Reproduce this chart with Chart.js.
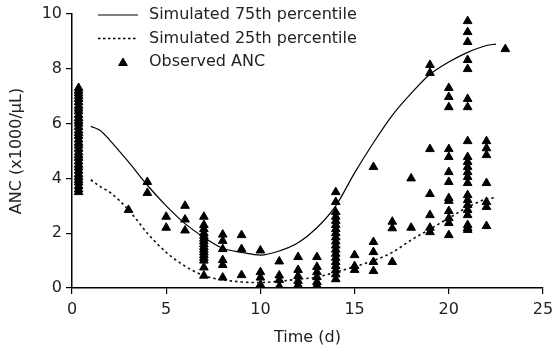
<!DOCTYPE html>
<html lang="en">
<head>
    <meta charset="UTF-8">
    <title>ANC over time</title>
    <style>
        body { margin: 0; background: #fff; }
        #wrap { width: 552px; height: 349px; }
    </style>
    <script src="https://cdn.jsdelivr.net/npm/chart.js"></script>
    <script>
        // simulated percentiles (day, ANC x1000/uL)
        const simDays = [1, 1.5, 2, 3, 4, 5, 6, 7, 8, 9, 10, 11, 12, 13, 14, 15, 16, 17, 18, 19, 20, 21, 22, 22.5];
        const sim75 = [5.9, 5.75, 5.4, 4.6, 3.75, 3.0, 2.35, 1.85, 1.45, 1.3, 1.2, 1.35, 1.65, 2.2, 3.0, 4.2, 5.3, 6.3, 7.1, 7.8, 8.25, 8.6, 8.85, 8.9];
        const sim25 = [3.95, 3.7, 3.5, 2.85, 2.0, 1.3, 0.8, 0.45, 0.3, 0.22, 0.2, 0.25, 0.32, 0.4, 0.58, 0.78, 1.0, 1.3, 1.75, 2.15, 2.55, 2.95, 3.25, 3.3];

        // observed ANC, grouped by sampling day
        const obsDays = [0.35, 3, 4, 5, 6, 7, 8, 9, 10, 11, 12, 13, 14, 15, 16, 17, 18, 19, 20, 21, 22, 23];
        const obsValues = [
            [3.5, 3.6, 3.72, 3.85, 3.95, 4.05, 4.15, 4.28, 4.4, 4.5, 4.62, 4.75, 4.85, 4.95, 5.08, 5.2, 5.3, 5.42, 5.55, 5.65, 5.75, 5.88, 6.0, 6.1, 6.2, 6.32, 6.45, 6.55, 6.65, 6.78, 6.9, 7.0, 7.1, 7.2, 7.3],
            [2.85],
            [3.87, 3.47],
            [2.6, 2.2],
            [3.0, 2.5, 2.1],
            [2.6, 2.3, 2.15, 2.0, 1.9, 1.8, 1.7, 1.6, 1.5, 1.4, 1.3, 1.2, 1.1, 1.0, 0.75, 0.45],
            [1.95, 1.72, 1.42, 1.02, 0.84, 0.38],
            [1.93, 1.42, 0.47],
            [1.37, 0.58, 0.38, 0.12],
            [0.97, 0.46, 0.29, 0.06],
            [1.13, 0.66, 0.44, 0.26, 0.11],
            [1.13, 0.77, 0.58, 0.4, 0.22, 0.1],
            [3.5, 3.14, 2.77, 2.6, 2.45, 2.3, 2.15, 2.0, 1.85, 1.7, 1.55, 1.4, 1.25, 1.1, 0.95, 0.8, 0.65, 0.5, 0.32],
            [1.2, 0.8, 0.66],
            [4.42, 1.68, 1.31, 0.95, 0.62],
            [2.42, 2.18, 0.95],
            [4.0, 2.2],
            [8.14, 7.85, 5.07, 3.43, 2.66, 2.2, 2.04],
            [7.3, 6.97, 6.6, 5.07, 4.78, 4.23, 3.87, 3.28, 3.18, 2.81, 2.55, 2.37, 1.93],
            [9.74, 9.34, 8.98, 8.32, 7.99, 6.9, 6.6, 5.36, 4.78, 4.6, 4.42, 4.23, 4.05, 3.83, 3.39, 3.21, 3.03, 2.85, 2.66, 2.3, 2.19, 2.12],
            [5.36, 5.1, 4.85, 3.83, 3.14, 2.96, 2.26],
            [8.72]
        ];

        const xTicks = [0, 5, 10, 15, 20, 25];
        const yTicks = [0, 2, 4, 6, 8, 10];

        const labelFont = { family: 'DejaVu Sans', size: 16 };
        const textColor = '#222';

        // draws the little legend in the top left of the plot
        const legendPlugin = {
            id: 'cornerLegend',
            afterDraw(chart) {
                const ctx = chart.ctx;
                const rows = [
                    { y: 15, text: 'Simulated 75th percentile', kind: 'solid' },
                    { y: 38.5, text: 'Simulated 25th percentile', kind: 'dash' },
                    { y: 62, text: 'Observed ANC', kind: 'tri' }
                ];
                ctx.save();
                ctx.font = '16px "DejaVu Sans"';
                ctx.fillStyle = textColor;
                ctx.textBaseline = 'middle';
                rows.forEach(r => {
                    ctx.strokeStyle = '#000';
                    if (r.kind === 'solid') {
                        ctx.lineWidth = 1.2;
                        ctx.setLineDash([]);
                        ctx.beginPath(); ctx.moveTo(98, r.y); ctx.lineTo(138, r.y); ctx.stroke();
                    } else if (r.kind === 'dash') {
                        ctx.lineWidth = 1.6;
                        ctx.setLineDash([2.5, 2.5]);
                        ctx.beginPath(); ctx.moveTo(98, r.y); ctx.lineTo(138, r.y); ctx.stroke();
                        ctx.setLineDash([]);
                    } else {
                        const cx = 123, cy = r.y + 1, rad = 5;
                        ctx.fillStyle = '#000';
                        ctx.beginPath();
                        ctx.moveTo(cx, cy - rad);
                        ctx.lineTo(cx + rad * 0.866, cy + rad / 2);
                        ctx.lineTo(cx - rad * 0.866, cy + rad / 2);
                        ctx.closePath();
                        ctx.fill();
                        ctx.lineWidth = 1; ctx.stroke();
                        ctx.fillStyle = textColor;
                    }
                    ctx.fillText(r.text, 149, r.y);
                });
                ctx.restore();
            }
        };

        function onLoad() {
            const obsPoints = [];
            obsDays.forEach((d, i) => {
                obsValues[i].forEach(v => obsPoints.push({ x: d, y: v }));
            });

            const ctx = document.getElementById('ancChart').getContext('2d');
            new Chart(ctx, {
                data: {
                    datasets: [{
                        type: 'line',
                        label: 'Simulated 75th percentile',
                        data: simDays.map((d, i) => ({ x: d, y: sim75[i] })),
                        borderColor: '#000',
                        borderWidth: 1.2,
                        pointRadius: 0,
                        cubicInterpolationMode: 'monotone',
                        fill: false
                    }, {
                        type: 'line',
                        label: 'Simulated 25th percentile',
                        data: simDays.map((d, i) => ({ x: d, y: sim25[i] })),
                        borderColor: '#111',
                        borderWidth: 1.6,
                        borderDash: [2.5, 3],
                        pointRadius: 0,
                        cubicInterpolationMode: 'monotone',
                        fill: false
                    }, {
                        type: 'scatter',
                        label: 'Observed ANC',
                        data: obsPoints,
                        pointStyle: 'triangle',
                        pointRadius: 5,
                        pointBorderWidth: 1,
                        backgroundColor: '#000',
                        borderColor: '#000'
                    }]
                },
                options: {
                    responsive: false,
                    animation: false,
                    layout: { padding: { top: 14, right: 9, left: 0, bottom: 0 } },
                    plugins: {
                        legend: { display: false },
                        tooltip: { enabled: false }
                    },
                    scales: {
                        x: {
                            type: 'linear',
                            min: 0,
                            max: 25,
                            afterBuildTicks: s => { s.ticks = xTicks.map(v => ({ value: v })); },
                            afterFit: s => { s.height = 61; s.paddingLeft = 0; s.paddingRight = 0; },
                            grid: { drawOnChartArea: false, drawTicks: true, tickLength: 6, color: '#000', lineWidth: 1.2 },
                            border: { color: '#000', width: 1.5 },
                            ticks: { font: labelFont, color: textColor, padding: 6, maxRotation: 0 },
                            title: { display: true, text: 'Time (d)', font: labelFont, color: textColor, padding: { top: 0, bottom: 2 } }
                        },
                        y: {
                            type: 'linear',
                            min: 0,
                            max: 10,
                            afterBuildTicks: s => { s.ticks = yTicks.map(v => ({ value: v })); },
                            afterFit: s => { s.width = 72; s.paddingTop = 0; s.paddingBottom = 0; },
                            grid: { drawOnChartArea: false, drawTicks: true, tickLength: 6, color: '#000', lineWidth: 1.2 },
                            border: { color: '#000', width: 1.5 },
                            ticks: { font: labelFont, color: textColor, padding: 4 },
                            title: { display: true, text: 'ANC (x1000/μL)', font: labelFont, color: textColor, padding: { top: 7, bottom: 0 } }
                        }
                    }
                },
                plugins: [legendPlugin]
            });
        }

        window.onload = onLoad;
    </script>
</head>
<body>
<div id="wrap">
    <canvas id="ancChart" width="552" height="349"></canvas>
</div>
</body>
</html>
